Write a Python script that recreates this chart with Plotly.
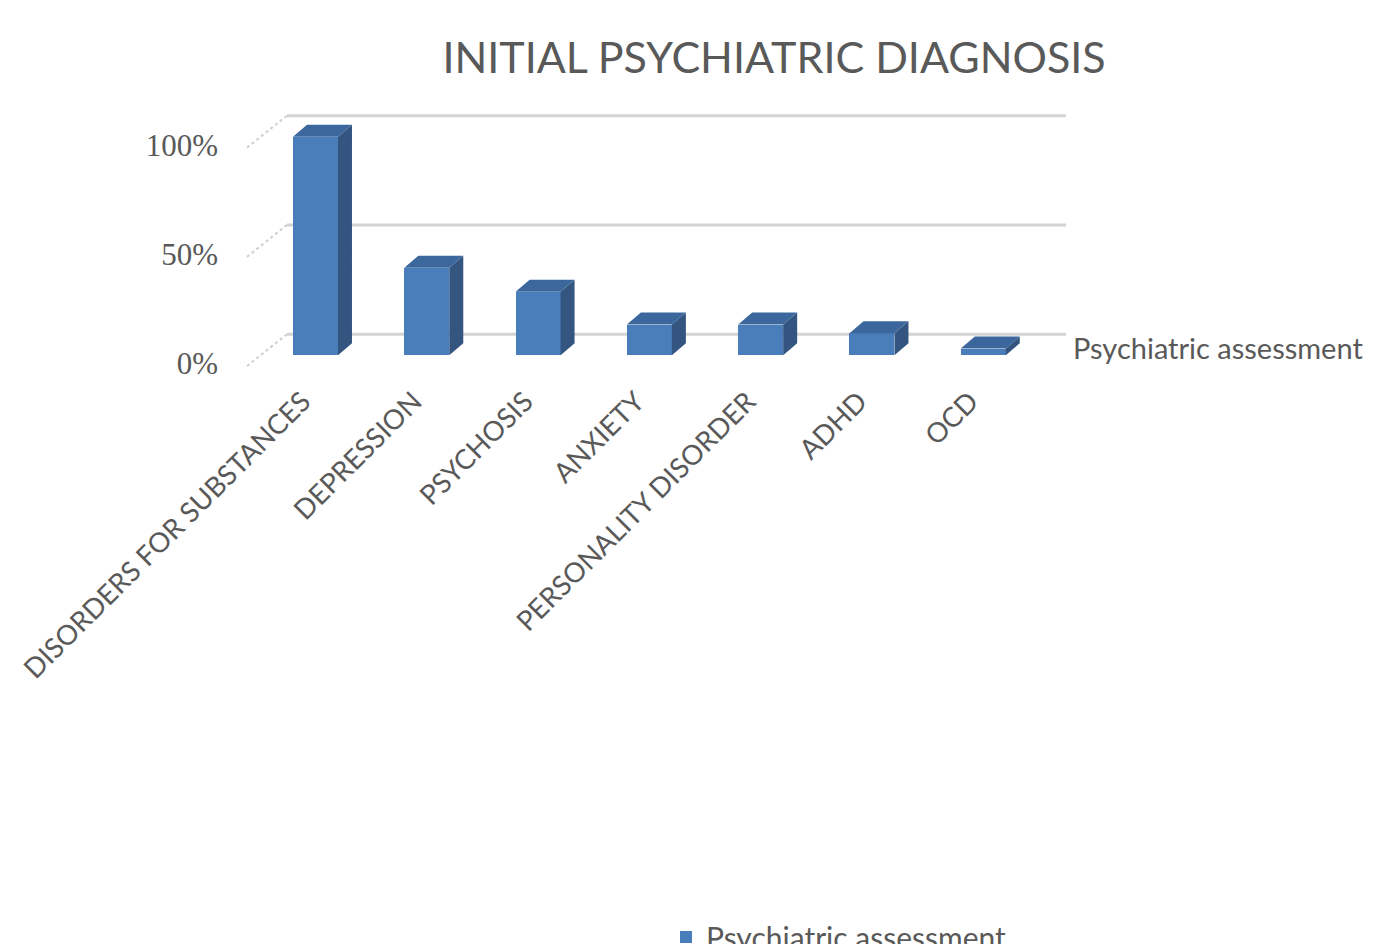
import plotly.graph_objects as go

# ---- data ----
categories = ["DISORDERS FOR SUBSTANCES", "DEPRESSION", "PSYCHOSIS", "ANXIETY",
              "PERSONALITY DISORDER", "ADHD", "OCD"]
values = [100, 40, 29, 14, 14, 10, 3]          # percent
series_name = "Psychiatric assessment"
y_ticks = [0, 50, 100]
y_tick_labels = ["0%", "50%", "100%"]
title_text = "INITIAL PSYCHIATRIC DIAGNOSIS"

# ---- style / geometry ----
FRONT = "#4a7ebb"
SIDE = "#33557f"
TOP = "#3b679c"
TXT = "#595959"
BAR_W = 0.404          # category units
DX, DY = 0.126, 5.5    # bar depth offset (x units, y units)
BACK_DY = 9.6          # back wall offset in y units
BACK_X0, BACK_X1 = -0.256, 6.743
WALL_FRONT_X, WALL_FRONT_DY = -0.615, -5.0
SANS = "Lato, Open Sans, sans-serif"

W, H = 1366, 936
ML, MR, MT, MB = 224, 285, 85, 567

xs = list(range(len(categories)))

fig = go.Figure()
fig.add_trace(go.Bar(x=xs, y=values, width=BAR_W, marker=dict(color=FRONT, line=dict(width=0)),
                     name=series_name, showlegend=True))

# side and top faces, built from the data values
side_x, side_y, top_x, top_y = [], [], [], []
for x, v in zip(xs, values):
    r = x + BAR_W / 2
    l = x - BAR_W / 2
    side_x += [r, r + DX, r + DX, r, r, None]
    side_y += [0, DY, v + DY, v, 0, None]
    top_x += [l, l + DX, r + DX, r, l, None]
    top_y += [v, v + DY, v + DY, v, v, None]
fig.add_trace(go.Scatter(x=side_x, y=side_y, mode="lines", fill="toself", fillcolor=SIDE,
                         line=dict(width=0, color=SIDE), showlegend=False, hoverinfo="skip"))
fig.add_trace(go.Scatter(x=top_x, y=top_y, mode="lines", fill="toself", fillcolor=TOP,
                         line=dict(width=0, color=TOP), showlegend=False, hoverinfo="skip"))

# back-wall gridlines and left-wall edges
shapes = []
for t in y_ticks:
    shapes.append(dict(type="line", xref="x", yref="y", x0=BACK_X0, x1=BACK_X1,
                       y0=t + BACK_DY, y1=t + BACK_DY, line=dict(color="#d3d3d3", width=3),
                       layer="below"))
    shapes.append(dict(type="line", xref="x", yref="y", x0=WALL_FRONT_X, x1=BACK_X0,
                       y0=t + WALL_FRONT_DY, y1=t + BACK_DY,
                       line=dict(color="#cfcfcf", width=2, dash="dot"), layer="below"))

plot_w = W - ML - MR
plot_h = H - MT - MB

fig.update_layout(
    width=W, height=H,
    margin=dict(l=ML, r=MR, t=MT, b=MB, autoexpand=False),
    paper_bgcolor="white", plot_bgcolor="white",
    title=dict(text=title_text, x=766 / W, xanchor="center", y=1 - 50 / H, yanchor="middle",
               font=dict(family=SANS, size=43, color=TXT)),
    xaxis=dict(range=[-0.75, 6.95], tickvals=xs, ticktext=categories, tickangle=-45,
               showgrid=False, zeroline=False, showline=False, ticks="",
               tickfont=dict(family=SANS, size=27.5, color=TXT),
               ticklabelstandoff=2, ticklabelshift=-13),
    yaxis=dict(range=[-10, 120], tickvals=y_ticks, ticktext=y_tick_labels,
               showgrid=False, zeroline=False, showline=False, ticks="",
               tickfont=dict(family="Liberation Serif, Times New Roman, serif", size=31, color=TXT),
               ticklabelshift=8, ticklabelstandoff=13),
    shapes=shapes,
    showlegend=True,
    legend=dict(orientation="h", x=(658 - ML) / plot_w, xref="paper", xanchor="left",
                y=(369 - 929) / plot_h, yanchor="middle",
                font=dict(family=SANS, size=30, color=TXT)),
    annotations=[dict(text=series_name, xref="x", yref="y", x=6.788, y=3.7,
                      xanchor="left", yanchor="middle", showarrow=False,
                      font=dict(family=SANS, size=29, color=TXT))],
    bargap=0,
)

fig.write_html("out.html")
